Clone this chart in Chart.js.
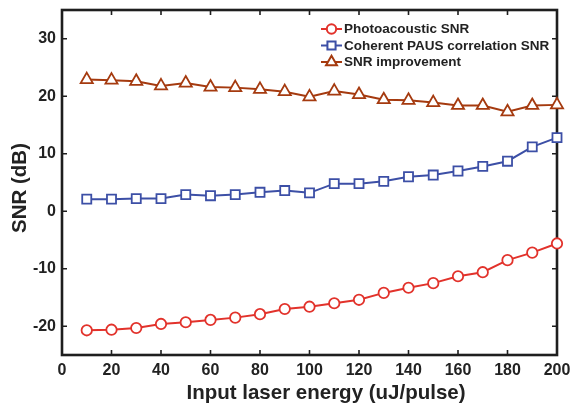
<!DOCTYPE html>
<html>
<head>
<meta charset="utf-8">
<script src="https://cdn.jsdelivr.net/npm/chart.js@4/dist/chart.umd.min.js"></script>
<style>
  html, body { margin: 0; padding: 0; background: #fff; }
  #wrap { width: 579px; height: 406px; position: relative; }
</style>
</head>
<body>
<div id="wrap"><canvas id="c" width="579" height="406"></canvas></div>
<script>
// Input laser energy (uJ/pulse)
const energy = [10, 20, 30, 40, 50, 60, 70, 80, 90, 100, 110, 120, 130, 140, 150, 160, 170, 180, 190, 200];
// SNR values in dB
const photoacousticSNR = [-20.7, -20.6, -20.3, -19.6, -19.3, -18.9, -18.5, -17.9, -17.0, -16.6, -16.0, -15.4, -14.2, -13.3, -12.5, -11.3, -10.6, -8.5, -7.2, -5.6];
const coherentSNR = [2.1, 2.1, 2.2, 2.2, 2.9, 2.7, 2.9, 3.3, 3.6, 3.2, 4.8, 4.8, 5.2, 6.0, 6.3, 7.0, 7.8, 8.7, 11.2, 12.8];
const snrImprovement = [22.9, 22.8, 22.6, 21.8, 22.3, 21.6, 21.5, 21.2, 20.8, 19.9, 20.9, 20.3, 19.4, 19.3, 18.9, 18.4, 18.4, 17.3, 18.4, 18.5];
const seriesNames = ['Photoacoustic SNR', 'Coherent PAUS correlation SNR', 'SNR improvement'];
const yTickValues = [-20, -10, 0, 10, 20, 30];
const xTitle = 'Input laser energy (uJ/pulse)';
const yTitle = 'SNR (dB)';

const RED = '#e2322b', BLUE = '#3c4fa6', BROWN = '#a53a0f';
const FONT = '"Liberation Sans", Arial, Helvetica, sans-serif';

const toPoints = (ys) => energy.map((x, i) => ({ x, y: ys[i] }));

function series(label, ys, color, style, radius) {
  return {
    label, data: toPoints(ys),
    borderColor: color, backgroundColor: '#ffffff',
    borderWidth: 2,
    pointStyle: style, pointRadius: radius, pointHoverRadius: radius,
    pointBorderColor: color, pointBackgroundColor: '#ffffff', pointBorderWidth: 1.8,
    tension: 0, clip: false
  };
}

// Box frame with inward tick marks on all four sides
const framePlugin = {
  id: 'frame',
  beforeDatasetsDraw(chart) {
    const { ctx, chartArea: a, scales } = chart;
    ctx.save();
    ctx.strokeStyle = '#1e1e1e';
    ctx.lineWidth = 1.6;
    const len = 5;
    ctx.beginPath();
    scales.x.ticks.forEach(t => {
      const px = scales.x.getPixelForValue(t.value);
      ctx.moveTo(px, a.bottom); ctx.lineTo(px, a.bottom - len);
      ctx.moveTo(px, a.top); ctx.lineTo(px, a.top + len);
    });
    scales.y.ticks.forEach(t => {
      const py = scales.y.getPixelForValue(t.value);
      ctx.moveTo(a.left, py); ctx.lineTo(a.left + len, py);
      ctx.moveTo(a.right, py); ctx.lineTo(a.right - len, py);
    });
    ctx.stroke();
    ctx.lineWidth = 2.6;
    ctx.strokeRect(a.left, a.top, a.right - a.left, a.bottom - a.top);
    ctx.restore();
  },
  afterDraw(chart) {
    // axis titles
    const { ctx } = chart;
    ctx.save();
    ctx.fillStyle = '#222';
    ctx.font = 'bold 20.5px ' + FONT;
    ctx.textAlign = 'center';
    ctx.textBaseline = 'middle';
    ctx.fillText(xTitle, 326, 393);
    ctx.translate(20, 188);
    ctx.rotate(-Math.PI / 2);
    ctx.fillText(yTitle, 0, 0);
    ctx.restore();
  }
};

// Legend: line segment with marker, then series name
const legendPlugin = {
  id: 'boxLegend',
  afterDatasetsDraw(chart) {
    const { ctx } = chart;
    const x0 = 321, x1 = 342, tx = 344;
    const rows = [29, 45.5, 62];
    ctx.save();
    chart.data.datasets.forEach((ds, i) => {
      const y = rows[i];
      ctx.strokeStyle = ds.borderColor;
      ctx.lineWidth = 2;
      ctx.beginPath(); ctx.moveTo(x0, y); ctx.lineTo(x1, y); ctx.stroke();
      ctx.fillStyle = '#ffffff';
      Chart.helpers.drawPoint(ctx, {
        pointStyle: ds.pointStyle, radius: ds.pointRadius * 0.9, borderWidth: 1.8
      }, (x0 + x1) / 2, y);
      ctx.fillStyle = '#222';
      ctx.font = 'bold 13.5px ' + FONT;
      ctx.textBaseline = 'middle';
      ctx.textAlign = 'left';
      ctx.fillText(ds.label, tx, y + 0.5);
    });
    ctx.restore();
  }
};

new Chart(document.getElementById('c'), {
  type: 'line',
  data: {
    datasets: [
      series(seriesNames[0], photoacousticSNR, RED, 'circle', 5.2),
      series(seriesNames[1], coherentSNR, BLUE, 'rect', 6.4),
      series(seriesNames[2], snrImprovement, BROWN, 'triangle', 7)
    ]
  },
  options: {
    responsive: false,
    animation: false,
    events: [],
    layout: { padding: { top: 10, right: 22, left: 0, bottom: 0 } },
    plugins: { legend: { display: false }, tooltip: { enabled: false } },
    scales: {
      x: {
        type: 'linear', min: 0, max: 200,
        grid: { display: false, drawTicks: false },
        border: { display: false },
        ticks: { stepSize: 20, padding: 6, color: '#222', font: { family: FONT, size: 16, weight: 'bold' } },
        afterFit(s) { s.height = 51; s.paddingLeft = 0; s.paddingRight = 0; }
      },
      y: {
        type: 'linear', min: -25, max: 35,
        grid: { display: false, drawTicks: false },
        border: { display: false },
        afterBuildTicks(s) { s.ticks = yTickValues.map(v => ({ value: v })); },
        ticks: { padding: 6, color: '#222', font: { family: FONT, size: 16, weight: 'bold' } },
        afterFit(s) { s.width = 62; s.paddingTop = 0; s.paddingBottom = 0; }
      }
    }
  },
  plugins: [framePlugin, legendPlugin]
});
</script>
</body>
</html>
